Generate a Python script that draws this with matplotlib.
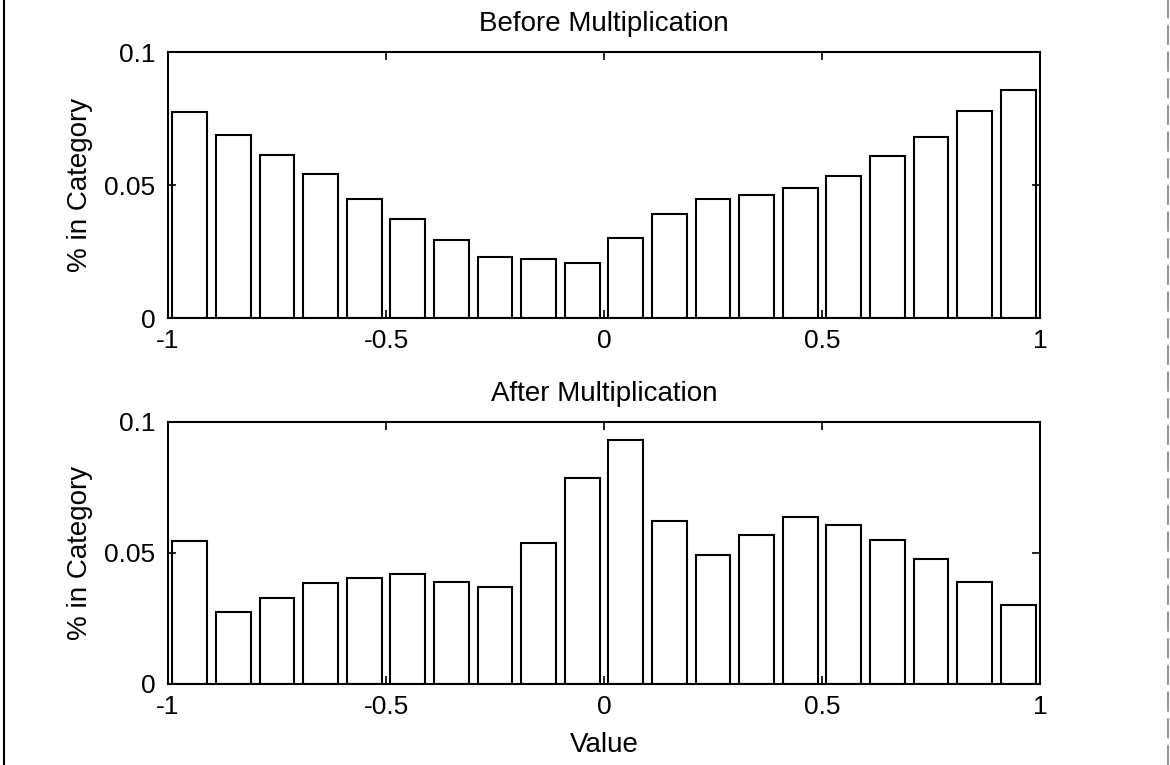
import matplotlib
matplotlib.use("Agg")
import matplotlib.pyplot as plt
from matplotlib.lines import Line2D

# centros dos bins (hist com 20 classes em [-1, 1])
bin_centers = [-0.95, -0.85, -0.75, -0.65, -0.55, -0.45, -0.35, -0.25, -0.15, -0.05,
               0.05, 0.15, 0.25, 0.35, 0.45, 0.55, 0.65, 0.75, 0.85, 0.95]

before_vals = [0.0774, 0.0688, 0.0614, 0.0541, 0.0447, 0.0372, 0.0294, 0.0229, 0.0223, 0.0208,
               0.0302, 0.0392, 0.0446, 0.0461, 0.0490, 0.0535, 0.0609, 0.0680, 0.0778, 0.0856]

after_vals = [0.0547, 0.0276, 0.0328, 0.0387, 0.0406, 0.0421, 0.0391, 0.0370, 0.0539, 0.0786,
              0.0931, 0.0623, 0.0491, 0.0567, 0.0639, 0.0606, 0.0548, 0.0476, 0.0391, 0.0300]

titles = ["Before Multiplication", "After Multiplication"]
x_ticks = [-1, -0.5, 0, 0.5, 1]
x_ticklabels = ["-1", "-0.5", "0", "0.5", "1"]
y_ticks = [0, 0.05, 0.1]
y_ticklabels = ["0", "0.05", "0.1"]

plt.rcParams["font.family"] = ["Liberation Sans", "DejaVu Sans"]
fs_tick = 19
fs_text = 20

fig = plt.figure(figsize=(11.7, 7.65), dpi=100)

ax1 = fig.add_axes([0.1436, 0.5843, 0.7453, 0.3477])
ax2 = fig.add_axes([0.1436, 0.1059, 0.7453, 0.3425])

for ax, vals, titulo in zip([ax1, ax2], [before_vals, after_vals], titles):
    ax.bar(
        bin_centers,
        vals,
        width=0.08,
        facecolor="white",
        edgecolor="black",
        linewidth=1.5
    )
    ax.set_xlim(-1, 1)
    ax.set_ylim(0, 0.1)
    ax.set_xticks(x_ticks)
    ax.set_xticklabels(x_ticklabels)
    ax.set_yticks(y_ticks)
    ax.set_yticklabels(y_ticklabels)
    ax.tick_params(
        direction="in",
        top=True,
        right=True,
        length=6,
        width=1.2,
        labelsize=fs_tick
    )
    ax.tick_params(axis="x", pad=8)
    ax.tick_params(axis="y", pad=9)
    for sp in ax.spines.values():
        sp.set_linewidth(1.5)
    ax.set_title(titulo, fontsize=fs_text, pad=15)
    ax.set_ylabel("% in Category", fontsize=fs_text, labelpad=8)

ax2.set_xlabel("Value", fontsize=fs_text, labelpad=9)

# bordas da página digitalizada
fig.add_artist(Line2D([0.003, 0.003], [0, 1], color="black", linewidth=1.5,
                      transform=fig.transFigure))
fig.add_artist(Line2D([0.9985, 0.9985], [0, 1], color="gray", linewidth=1.2,
                      linestyle=(0, (12, 4)), transform=fig.transFigure))

fig.savefig("out.png", dpi=100, facecolor="white")
